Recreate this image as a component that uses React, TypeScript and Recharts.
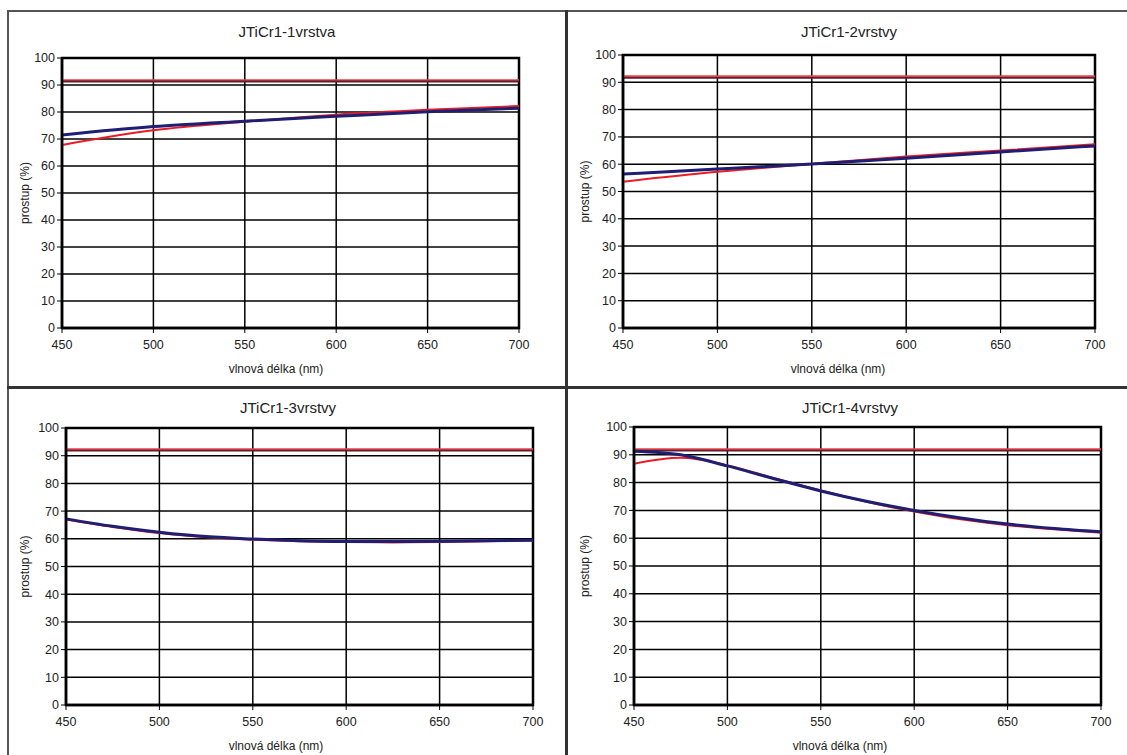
import { LineChart, Line, XAxis, YAxis, CartesianGrid, ReferenceArea, Label } from "recharts";

const FONT = "'Liberation Sans', Arial, sans-serif";

// wavelengths (nm)
const wl6 = [450, 500, 550, 600, 650, 700];
const wl11 = [450, 475, 500, 525, 550, 575, 600, 625, 650, 675, 700];

const xTicks = [450, 500, 550, 600, 650, 700];
const yTicks = [0, 10, 20, 30, 40, 50, 60, 70, 80, 90, 100];

// JTiCr1-1vrstva
const p1Measured = [67.8, 73.2, 76.4, 79.0, 80.8, 82.2];
const p1Calc = [71.5, 74.6, 76.6, 78.4, 80.1, 81.4];
const p1SubMeas = [91.8, 91.8, 91.8, 91.8, 91.8, 91.8];
const p1SubCalc = [91.3, 91.3, 91.3, 91.3, 91.3, 91.3];

// JTiCr1-2vrstvy
const p2Measured = [53.6, 57.2, 60.1, 62.8, 65.0, 67.3];
const p2Calc = [56.4, 58.2, 60.1, 62.2, 64.5, 66.7];
const p2SubMeas = [92.2, 92.2, 92.2, 92.2, 92.2, 92.2];
const p2SubCalc = [91.6, 91.6, 91.6, 91.6, 91.6, 91.6];

// JTiCr1-3vrstvy
const p3Measured = [67.0, 64.3, 62.1, 60.6, 59.7, 59.1, 58.8, 58.7, 58.8, 59.1, 59.4];
const p3Calc = [67.2, 64.5, 62.4, 60.8, 59.9, 59.3, 59.0, 59.0, 59.1, 59.3, 59.5];
const p3SubMeas = [92.3, 92.3, 92.3, 92.3, 92.3, 92.3, 92.3, 92.3, 92.3, 92.3, 92.3];
const p3SubCalc = [91.8, 91.8, 91.8, 91.8, 91.8, 91.8, 91.8, 91.8, 91.8, 91.8, 91.8];

// JTiCr1-4vrstvy
const p4Measured = [86.8, 88.9, 86.2, 81.6, 77.2, 73.0, 69.6, 66.8, 64.7, 63.2, 62.0];
const p4Calc = [91.3, 90.0, 86.0, 81.4, 77.0, 73.2, 70.0, 67.3, 65.1, 63.5, 62.3];
const p4SubMeas = [92.0, 92.0, 92.0, 92.0, 92.0, 92.0, 92.0, 92.0, 92.0, 92.0, 92.0];
const p4SubCalc = [91.5, 91.5, 91.5, 91.5, 91.5, 91.5, 91.5, 91.5, 91.5, 91.5, 91.5];

const build = (x: number[], meas: number[], calc: number[], sm: number[], sc: number[]) =>
  x.map((v, i) => ({ wl: v, meas: meas[i], calc: calc[i], subMeas: sm[i], subCalc: sc[i] }));

const panels = [
  { title: "JTiCr1-1vrstva", data: build(wl6, p1Measured, p1Calc, p1SubMeas, p1SubCalc),
    pl: 62, pt: 58, pr: 519, pb: 328, yLabX: 25, xTitleX: 276, titleX: 287, titleY: 32 },
  { title: "JTiCr1-2vrstvy", data: build(wl6, p2Measured, p2Calc, p2SubMeas, p2SubCalc),
    pl: 623, pt: 55, pr: 1095, pb: 328, yLabX: 585, xTitleX: 838, titleX: 849, titleY: 32 },
  { title: "JTiCr1-3vrstvy", data: build(wl11, p3Measured, p3Calc, p3SubMeas, p3SubCalc),
    pl: 66, pt: 428, pr: 533, pb: 705, yLabX: 25, xTitleX: 276, titleX: 288, titleY: 408 },
  { title: "JTiCr1-4vrstvy", data: build(wl11, p4Measured, p4Calc, p4SubMeas, p4SubCalc),
    pl: 634, pt: 427, pr: 1101, pb: 705, yLabX: 585, xTitleX: 840, titleX: 850, titleY: 408 },
];

const Y_W = 60;
const X_H = 50;
const M_TOP = 10;
const M_RIGHT = 14;

const tickStyle = { fill: "#222", fontSize: 12.5, fontFamily: FONT };

function Panel({ p }: { p: (typeof panels)[number] }) {
  const w = p.pr - p.pl + Y_W + M_RIGHT;
  const h = p.pb - p.pt + M_TOP + X_H;
  const left = p.pl - Y_W;
  const top = p.pt - M_TOP;
  return (
    <>
      <div style={{
        position: "absolute", left: p.titleX - 100, top: p.titleY - 10, width: 200,
        textAlign: "center", fontFamily: FONT, fontSize: 15, color: "#222", lineHeight: "20px",
      }}>
        {p.title}
      </div>
      <div style={{ position: "absolute", left, top }}>
        <LineChart width={w} height={h} data={p.data}
          margin={{ top: M_TOP, right: M_RIGHT, left: 0, bottom: 0 }}>
          <CartesianGrid stroke="#000" strokeWidth={1.5} />
          <XAxis dataKey="wl" type="number" domain={[450, 700]} ticks={xTicks}
            height={X_H} tick={tickStyle} tickSize={5} tickMargin={7}
            tickLine={{ stroke: "#000" }} axisLine={{ stroke: "#000", strokeWidth: 2.5 }}>
            <Label value="vlnová délka  (nm)" position="insideBottom" offset={5}
              dx={p.xTitleX - (p.pl + p.pr) / 2}
              style={{ fill: "#222", fontSize: 12, fontFamily: FONT }} />
          </XAxis>
          <YAxis type="number" domain={[0, 100]} ticks={yTicks} width={Y_W}
            tick={tickStyle} tickSize={5} tickMargin={2}
            tickLine={{ stroke: "#000" }} axisLine={{ stroke: "#000", strokeWidth: 2.5 }}>
            <Label value="prostup  (%)" angle={-90} position="insideLeft"
              offset={p.yLabX - left}
              style={{ textAnchor: "middle", fill: "#222", fontSize: 12, fontFamily: FONT }} />
          </YAxis>
          <ReferenceArea x1={450} x2={700} y1={0} y2={100} fill="none" stroke="#000" strokeWidth={2.5} />
          <Line type="monotone" dataKey="subMeas" stroke="#e8404a" strokeWidth={2} dot={false} isAnimationActive={false} />
          <Line type="monotone" dataKey="subCalc" stroke="#5c1f2e" strokeWidth={1.8} dot={false} isAnimationActive={false} />
          <Line type="monotone" dataKey="meas" stroke="#e81c24" strokeWidth={2} dot={false} isAnimationActive={false} />
          <Line type="monotone" dataKey="calc" stroke="#1e1f74" strokeWidth={3} dot={false} isAnimationActive={false} />
        </LineChart>
      </div>
    </>
  );
}

export default function App() {
  return (
    <div style={{ position: "absolute", left: 0, top: 0, width: 1127, height: 755, background: "#fff", overflow: "hidden" }}>
      {/* frame + dividers */}
      <div style={{ position: "absolute", left: 7, top: 10, width: 1140, height: 760, border: "2px solid #555", boxSizing: "border-box" }} />
      <div style={{ position: "absolute", left: 565, top: 10, width: 3, height: 745, background: "#333" }} />
      <div style={{ position: "absolute", left: 7, top: 386, width: 1120, height: 3, background: "#333" }} />
      {panels.map((p) => <Panel key={p.title} p={p} />)}
    </div>
  );
}
